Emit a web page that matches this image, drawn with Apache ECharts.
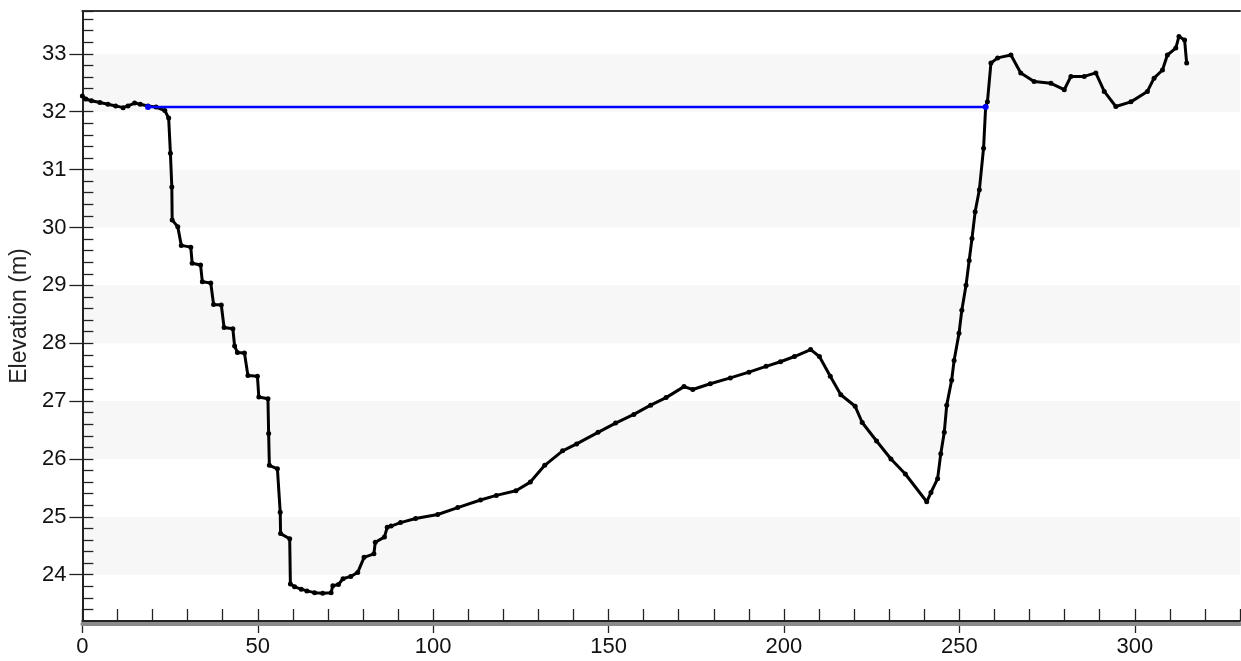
<!DOCTYPE html>
<html>
<head>
<meta charset="utf-8">
<script src="https://cdn.jsdelivr.net/npm/echarts@6/dist/echarts.min.js"></script>
<style>
  html, body { margin: 0; padding: 0; background: #fff; }
  #chart { width: 1241px; height: 661px; }
</style>
</head>
<body>
<div id="chart"></div>
<script>
// cross-section profile, station (m) / elevation (m)
const stationX = [
  0, 1.0, 2.6, 5.0, 7.3, 9.5, 11.6, 13.0, 14.9, 16.5, 18.7, 21.0, 23.5, 24.6, 25.1, 25.5, 25.6,
  27.2, 28.2, 30.9, 31.3, 33.7, 34.2, 36.6, 37.4, 39.6, 40.4, 42.9, 43.4, 44.2, 46.2, 47.2, 49.9,
  50.3, 52.9, 53.1, 53.3, 55.6, 56.4, 56.5, 59.1, 59.3, 60.5, 62.4, 64.0, 66.2, 68.5, 70.9, 71.4,
  73.0, 74.3, 76.5, 78.5, 80.3, 83.1, 83.5, 86.1, 86.9, 88.0, 90.7, 95.0, 101.3, 107.0, 113.5,
  118.0, 123.6, 127.7, 131.8, 136.9, 140.9, 147.0, 152.0, 157.2, 162.0, 166.4, 171.5, 174.0,
  179.0, 184.7, 190.0, 194.9, 199.0, 203.0, 207.6, 210.1, 213.2, 216.2, 220.3, 222.3, 226.4,
  230.5, 234.6, 240.7, 241.9, 243.8, 244.7, 245.7, 246.4, 247.8, 248.5, 249.9, 250.7, 251.9,
  252.8, 253.6, 254.5, 255.7, 256.9, 257.5, 258.0, 259.0, 260.9, 264.7, 267.5, 271.3, 276.1,
  279.9, 281.8, 285.6, 288.9, 291.3, 294.6, 298.9, 303.6, 305.5, 307.9, 309.3, 311.7, 312.6,
  314.2, 314.8
];
const elevation = [
  32.27, 32.22, 32.19, 32.16, 32.13, 32.10, 32.07, 32.10, 32.15, 32.13, 32.10, 32.08, 32.02, 31.89, 31.28, 30.70, 30.13,
  30.01, 29.69, 29.66, 29.38, 29.35, 29.06, 29.04, 28.67, 28.66, 28.27, 28.25, 27.95, 27.84, 27.83, 27.44, 27.43,
  27.07, 27.04, 26.44, 25.89, 25.83, 25.08, 24.71, 24.62, 23.84, 23.79, 23.75, 23.72, 23.69, 23.68, 23.69, 23.81,
  23.83, 23.93, 23.97, 24.04, 24.30, 24.36, 24.56, 24.65, 24.82, 24.84, 24.90, 24.97, 25.04, 25.16, 25.29,
  25.37, 25.45, 25.60, 25.89, 26.14, 26.26, 26.46, 26.62, 26.77, 26.93, 27.06, 27.25, 27.20,
  27.30, 27.40, 27.50, 27.60, 27.68, 27.77, 27.89, 27.77, 27.43, 27.11, 26.91, 26.63, 26.31,
  26.00, 25.74, 25.26, 25.42, 25.66, 26.09, 26.46, 26.93, 27.36, 27.70, 28.17, 28.57, 29.00,
  29.43, 29.81, 30.27, 30.65, 31.37, 32.09, 32.17, 32.84, 32.93, 32.98, 32.67, 32.52, 32.49,
  32.38, 32.61, 32.61, 32.67, 32.35, 32.09, 32.17, 32.35, 32.58, 32.72, 32.98, 33.10, 33.30,
  33.24, 32.84
];
// water surface
const waterX = [18.7, 257.5];
const waterY = [32.08, 32.08];

const font = 'Liberation Sans, Arial, sans-serif';
const xMin = 0, xMax = 330;
const yMin = 23.2, yMax = 33.74;

const chart = echarts.init(document.getElementById('chart'));

const profile = stationX.map((x, i) => [x, elevation[i]]);
const water = waterX.map((x, i) => [x, waterY[i]]);

const option = {
  animation: false,
  backgroundColor: '#fff',
  grid: { left: 81, right: 1, top: 11, bottom: 40, containLabel: false },
  xAxis: [
    {
      type: 'value', min: xMin, max: xMax, interval: 50, position: 'bottom',
      axisLine: { show: true, onZero: false, lineStyle: { color: '#222', width: 2 } },
      axisTick: { show: true, inside: false, length: 12, lineStyle: { color: '#222', width: 1.3 } },
      axisLabel: { fontSize: 22, fontFamily: font, color: '#111', margin: 15, showMaxLabel: false },
      splitLine: { show: false }
    },
    {
      type: 'value', min: xMin, max: xMax, interval: 10, position: 'bottom',
      axisLine: { show: false, onZero: false },
      axisTick: { show: true, inside: true, length: 12, lineStyle: { color: '#222', width: 1.3 } },
      axisLabel: { show: false },
      splitLine: { show: false }
    },
    {
      type: 'value', min: xMin, max: xMax, position: 'top',
      axisLine: { show: true, onZero: false, lineStyle: { color: '#333', width: 2 } },
      axisTick: { show: false },
      axisLabel: { show: false },
      splitLine: { show: false }
    },
    {
      // grey drop shadow under the x axis
      type: 'value', min: xMin, max: xMax, position: 'bottom', offset: 3,
      axisLine: { show: true, onZero: false, lineStyle: { color: '#8a8a8a', width: 4 } },
      axisTick: { show: false },
      axisLabel: { show: false },
      splitLine: { show: false },
      z: 1
    }
  ],
  yAxis: [
    {
      type: 'value', min: yMin, max: yMax, splitNumber: 10, position: 'left',
      name: 'Elevation (m)', nameLocation: 'middle', nameGap: 46,
      nameTextStyle: { fontSize: 23, fontFamily: font, color: '#222' },
      axisLine: { show: true, onZero: false, lineStyle: { color: '#222', width: 2 } },
      axisTick: { show: true, inside: false, length: 13, lineStyle: { color: '#222', width: 1.3 } },
      axisLabel: { fontSize: 22, fontFamily: font, color: '#111', margin: 16, showMinLabel: false, showMaxLabel: false },
      splitLine: { show: false },
      splitArea: { show: true, areaStyle: { color: ['#ffffff', '#f7f7f7'] } }
    },
    {
      type: 'value', min: yMin, max: yMax, interval: 0.2, position: 'left',
      axisLine: { show: false, onZero: false },
      axisTick: { show: true, inside: true, length: 11, lineStyle: { color: '#222', width: 1.3 } },
      axisLabel: { show: false },
      splitLine: { show: false }
    }
  ],
  series: [
    {
      name: 'Ground',
      type: 'line',
      xAxisIndex: 0, yAxisIndex: 0,
      data: profile,
      symbol: 'circle', symbolSize: 5, showSymbol: true,
      lineStyle: { color: '#000', width: 3 },
      itemStyle: { color: '#000' },
      z: 3
    },
    {
      name: 'Water surface',
      type: 'line',
      xAxisIndex: 0, yAxisIndex: 0,
      data: water,
      symbol: 'circle', symbolSize: 6, showSymbol: true,
      lineStyle: { color: '#0000ff', width: 2.5 },
      itemStyle: { color: '#0000ff' },
      z: 4
    }
  ]
};

chart.setOption(option);
</script>
</body>
</html>
